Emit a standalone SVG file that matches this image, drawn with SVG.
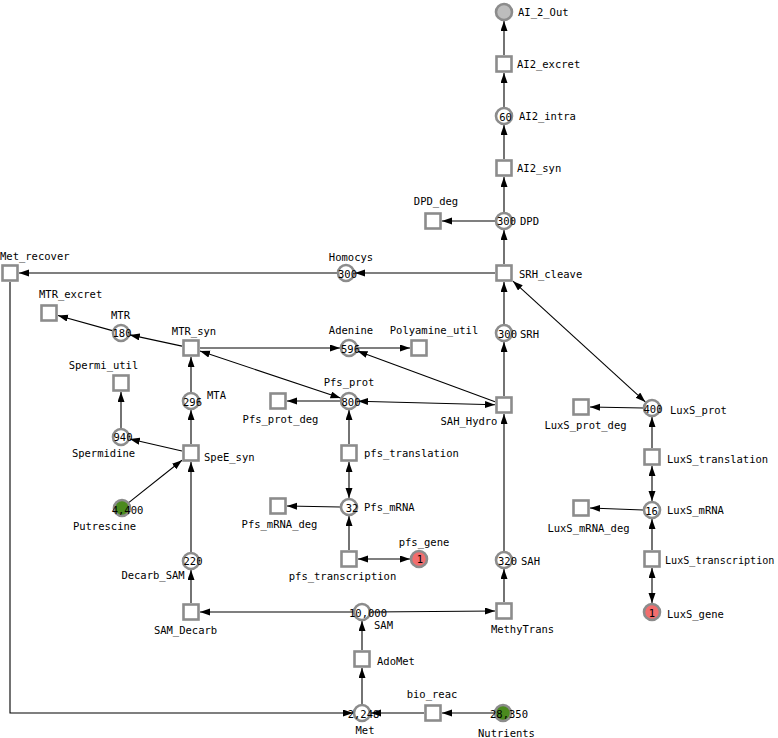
<svg xmlns="http://www.w3.org/2000/svg" width="778" height="738" viewBox="0 0 778 738">
<style>
.sq{fill:#fff;stroke:#8c8c8c;stroke-width:2.6}
.pl{fill:#fff;stroke:#8c8c8c;stroke-width:2.6}
.g{fill:#4b8a1e}
.r{fill:#f26d6d}
.o{fill:#bdbdbd}
text{font-family:"DejaVu Sans Mono","Liberation Mono",monospace;font-size:10.5px;fill:#000}
.m{text-anchor:middle}
.e line,.e polyline{stroke:#000;stroke-width:1.1;fill:none;marker-end:url(#a)}
.e .b{marker-start:url(#a)}
</style>
<defs>
<marker id="a" markerUnits="userSpaceOnUse" markerWidth="11" markerHeight="8" refX="10" refY="3.5" orient="auto-start-reverse"><path d="M0,0 L10,3.5 L0,7 z" fill="#000"/></marker>
</defs>
<g class="e" id="connectors">
<line x1="504" y1="55" x2="504" y2="21"/>
<line x1="504" y1="107" x2="504" y2="73"/>
<line x1="504" y1="159" x2="504" y2="125"/>
<line x1="504" y1="212" x2="504" y2="177"/>
<line x1="495" y1="221" x2="442" y2="221"/>
<line x1="504" y1="264" x2="504" y2="230"/>
<line x1="495" y1="273" x2="355" y2="273"/>
<line x1="337" y1="273" x2="19" y2="273"/>
<line x1="504" y1="324" x2="504" y2="282"/>
<line class="b" x1="645.3" y1="401.9" x2="513" y2="281.2"/>
<line x1="504" y1="396" x2="504" y2="342"/>
<line x1="504" y1="551" x2="504" y2="414"/>
<line x1="495" y1="401.7" x2="357.5" y2="351.1"/>
<line class="b" x1="358" y1="401.2" x2="495" y2="404.8"/>
<line x1="200" y1="348" x2="340" y2="348"/>
<line class="b" x1="340.5" y1="398.1" x2="200" y2="351"/>
<line x1="358" y1="348" x2="410" y2="348"/>
<line x1="182" y1="346.1" x2="129.8" y2="334.9"/>
<line x1="112.3" y1="330.6" x2="58" y2="315.5"/>
<line x1="191" y1="392" x2="191" y2="357"/>
<line x1="191" y1="444" x2="191" y2="410"/>
<line x1="182" y1="451" x2="129.8" y2="439"/>
<line x1="121" y1="428" x2="121" y2="392"/>
<line x1="129" y1="502.4" x2="182" y2="460.2"/>
<line x1="191" y1="552" x2="191" y2="462"/>
<line x1="191" y1="603" x2="191" y2="570"/>
<line x1="353" y1="612" x2="200" y2="612"/>
<line x1="371" y1="612" x2="495" y2="611"/>
<line x1="504" y1="602" x2="504" y2="569"/>
<line x1="362" y1="650" x2="362" y2="621"/>
<line x1="362" y1="704" x2="362" y2="668"/>
<line x1="424" y1="713" x2="371" y2="713"/>
<line x1="494" y1="713" x2="442" y2="713"/>
<polyline points="10,282 10,713 353,713"/>
<line x1="340" y1="401" x2="287" y2="401"/>
<line x1="349" y1="444" x2="349" y2="410"/>
<line class="b" x1="349" y1="498" x2="349" y2="462"/>
<line x1="340" y1="507" x2="287" y2="506"/>
<line x1="349" y1="550" x2="349" y2="516"/>
<line class="b" x1="358" y1="559" x2="410" y2="559"/>
<line x1="652" y1="448" x2="652" y2="417"/>
<line x1="643" y1="408" x2="590" y2="407"/>
<line class="b" x1="652" y1="501" x2="652" y2="466"/>
<line x1="643" y1="510" x2="590" y2="508"/>
<line x1="652" y1="550" x2="652" y2="519"/>
<line class="b" x1="652" y1="568" x2="652" y2="603"/>
</g>
<g id="AI_2_Out"><circle class="pl o" cx="504" cy="12" r="8"/><text x="518" y="16">AI_2_Out</text></g>
<g id="AI2_excret"><rect class="sq" x="496.5" y="56.5" width="15" height="15"/><text x="517" y="68">AI2_excret</text></g>
<g id="AI2_intra"><circle class="pl" cx="504" cy="116" r="8"/><text class="m" x="505.5" y="120.5">60</text><text x="519" y="120">AI2_intra</text></g>
<g id="AI2_syn"><rect class="sq" x="496.5" y="160.5" width="15" height="15"/><text x="517" y="172">AI2_syn</text></g>
<g id="DPD"><circle class="pl" cx="504" cy="221" r="8"/><text class="m" x="506.5" y="225">300</text><text x="520" y="225">DPD</text></g>
<g id="DPD_deg"><rect class="sq" x="425.5" y="213.5" width="15" height="15"/><text class="m" x="436" y="205">DPD_deg</text></g>
<g id="SRH_cleave"><rect class="sq" x="496.5" y="265.5" width="15" height="15"/><text x="519" y="278">SRH_cleave</text></g>
<g id="Homocys"><circle class="pl" cx="346" cy="273" r="8"/><text class="m" x="347.5" y="277.5">300</text><text class="m" x="351" y="261">Homocys</text></g>
<g id="Met_recover"><rect class="sq" x="2.5" y="265.5" width="15" height="15"/><text x="0" y="260">Met_recover</text></g>
<g id="MTR_excret"><rect class="sq" x="41.5" y="305.5" width="15" height="15"/><text x="39" y="297.5">MTR_excret</text></g>
<g id="MTR"><circle class="pl" cx="121" cy="333" r="8"/><text class="m" x="122" y="336.5">180</text><text class="m" x="120.5" y="318.5">MTR</text></g>
<g id="MTR_syn"><rect class="sq" x="183.5" y="340.5" width="15" height="15"/><text class="m" x="194" y="334.5">MTR_syn</text></g>
<g id="Adenine"><circle class="pl" cx="349" cy="348" r="8"/><text class="m" x="350.5" y="352.5">596</text><text class="m" x="351" y="334">Adenine</text></g>
<g id="Polyamine_util"><rect class="sq" x="411.5" y="340.5" width="15" height="15"/><text class="m" x="434" y="334">Polyamine_util</text></g>
<g id="SRH"><circle class="pl" cx="504" cy="333" r="8"/><text class="m" x="507.5" y="337.5">300</text><text x="520" y="337.5">SRH</text></g>
<g id="Spermi_util"><rect class="sq" x="113.5" y="375.5" width="15" height="15"/><text class="m" x="103.5" y="368.5">Spermi_util</text></g>
<g id="Spermidine"><circle class="pl" cx="121" cy="437" r="8"/><text class="m" x="123" y="441">940</text><text class="m" x="103.5" y="456.5">Spermidine</text></g>
<g id="MTA"><circle class="pl" cx="191" cy="401" r="8"/><text class="m" x="192.5" y="406">296</text><text x="207" y="398.5">MTA</text></g>
<g id="SpeE_syn"><rect class="sq" x="183.5" y="445.5" width="15" height="15"/><text x="204" y="460.5">SpeE_syn</text></g>
<g id="Putrescine"><circle class="pl g" cx="122" cy="508" r="8"/><text class="m" x="127.5" y="513.5">4,400</text><text class="m" x="104.5" y="529.5">Putrescine</text></g>
<g id="Decarb_SAM"><circle class="pl" cx="191" cy="561" r="8"/><text class="m" x="193" y="565">220</text><text class="m" x="153" y="578.5">Decarb_SAM</text></g>
<g id="SAM_Decarb"><rect class="sq" x="183.5" y="604.5" width="15" height="15"/><text class="m" x="185.5" y="634">SAM_Decarb</text></g>
<g id="Pfs_prot_deg"><rect class="sq" x="270.5" y="393.5" width="15" height="15"/><text class="m" x="280.5" y="422.5">Pfs_prot_deg</text></g>
<g id="Pfs_prot"><circle class="pl" cx="349" cy="401" r="8"/><text class="m" x="351" y="405.5">800</text><text class="m" x="349" y="385.5">Pfs_prot</text></g>
<g id="SAH_Hydro"><rect class="sq" x="496.5" y="397.5" width="15" height="15"/><text class="m" x="469" y="425">SAH_Hydro</text></g>
<g id="pfs_translation"><rect class="sq" x="341.5" y="445.5" width="15" height="15"/><text x="364" y="456.5">pfs_translation</text></g>
<g id="Pfs_mRNA_deg"><rect class="sq" x="270.5" y="498.5" width="15" height="15"/><text class="m" x="279.5" y="527.5">Pfs_mRNA_deg</text></g>
<g id="Pfs_mRNA"><circle class="pl" cx="349" cy="507" r="8"/><text class="m" x="352" y="511.5">32</text><text x="364" y="511">Pfs_mRNA</text></g>
<g id="pfs_transcription"><rect class="sq" x="341.5" y="551.5" width="15" height="15"/><text class="m" x="342.5" y="580">pfs_transcription</text></g>
<g id="pfs_gene"><circle class="pl r" cx="419" cy="559" r="8"/><text class="m" x="420" y="563">1</text><text class="m" x="424" y="545.5">pfs_gene</text></g>
<g id="SAH"><circle class="pl" cx="504" cy="560" r="8"/><text class="m" x="507.5" y="564.5">320</text><text x="521" y="564.5">SAH</text></g>
<g id="SAM"><circle class="pl" cx="362" cy="612" r="8"/><text class="m" x="368" y="617">10,000</text><text x="374" y="629">SAM</text></g>
<g id="MethyTrans"><rect class="sq" x="496.5" y="603.5" width="15" height="15"/><text class="m" x="522.5" y="632.5">MethyTrans</text></g>
<g id="AdoMet"><rect class="sq" x="354.5" y="651.5" width="15" height="15"/><text x="377" y="665">AdoMet</text></g>
<g id="Met"><circle class="pl" cx="362" cy="713" r="8"/><text class="m" x="363.5" y="718">2,248</text><text class="m" x="365" y="734">Met</text></g>
<g id="bio_reac"><rect class="sq" x="425.5" y="705.5" width="15" height="15"/><text class="m" x="432" y="697.5">bio_reac</text></g>
<g id="Nutrients"><circle class="pl g" cx="503" cy="713" r="8"/><text class="m" x="509" y="718">28,350</text><text class="m" x="506.5" y="737">Nutrients</text></g>
<g id="LuxS_prot_deg"><rect class="sq" x="573.5" y="399.5" width="15" height="15"/><text class="m" x="585.5" y="428.5">LuxS_prot_deg</text></g>
<g id="LuxS_prot"><circle class="pl" cx="652" cy="408" r="8"/><text class="m" x="653" y="412.5">400</text><text x="670" y="413.5">LuxS_prot</text></g>
<g id="LuxS_translation"><rect class="sq" x="644.5" y="449.5" width="15" height="15"/><text x="667" y="462.5">LuxS_translation</text></g>
<g id="LuxS_mRNA_deg"><rect class="sq" x="573.5" y="500.5" width="15" height="15"/><text class="m" x="588.5" y="531.5">LuxS_mRNA_deg</text></g>
<g id="LuxS_mRNA"><circle class="pl" cx="652" cy="510" r="8"/><text class="m" x="651.5" y="515">16</text><text x="667" y="514">LuxS_mRNA</text></g>
<g id="LuxS_transcription"><rect class="sq" x="644.5" y="551.5" width="15" height="15"/><text x="665" y="564" style="font-size:10.1px">LuxS_transcription</text></g>
<g id="LuxS_gene"><circle class="pl r" cx="652" cy="612" r="8"/><text class="m" x="652" y="616.5">1</text><text x="667" y="617.5">LuxS_gene</text></g>
</svg>
